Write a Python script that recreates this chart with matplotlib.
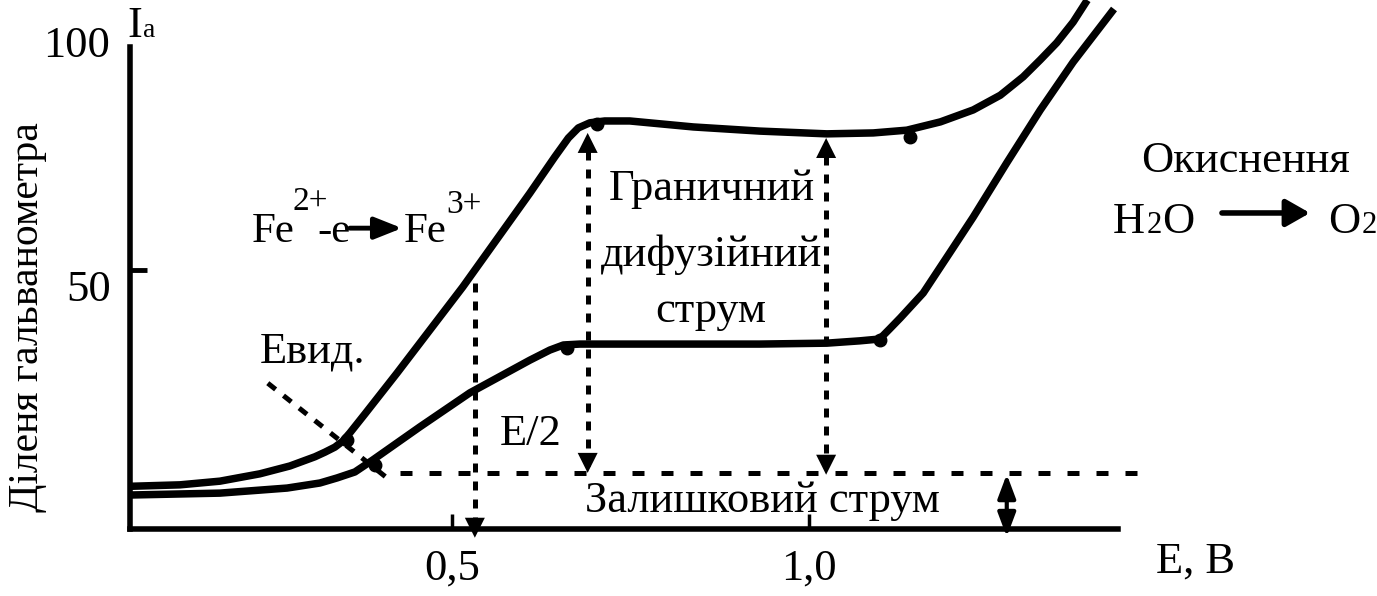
import matplotlib
matplotlib.use("Agg")
import matplotlib.pyplot as plt

plt.rcParams['font.family'] = ['Liberation Serif', 'DejaVu Serif']

# ---------------- data (E in V, current in galvanometer divisions) ----------------
upper_E = [0.053, 0.119, 0.175, 0.231, 0.273, 0.308, 0.322, 0.336, 0.347, 0.357,
           0.378, 0.423, 0.515, 0.609, 0.644, 0.663, 0.677, 0.693, 0.714, 0.749,
           0.838, 0.931, 1.025, 1.090, 1.137, 1.184, 1.230, 1.268, 1.300, 1.324,
           1.347, 1.370, 1.387]
upper_I = [3.0, 3.3, 4.1, 5.7, 7.4, 9.4, 10.4, 11.5, 12.8, 14.6,
           18.7, 27.6, 46.3, 66.7, 74.6, 78.7, 80.9, 82.0, 82.4, 82.4,
           81.1, 80.2, 79.6, 79.8, 80.4, 82.2, 84.8, 88.0, 92.0, 95.7,
           99.4, 103.9, 108.0]

lower_E = [0.053, 0.175, 0.269, 0.315, 0.339, 0.364, 0.389, 0.455, 0.525, 0.609,
           0.637, 0.656, 0.679, 0.791, 0.931, 1.025, 1.071, 1.099, 1.113, 1.128,
           1.160, 1.197, 1.230, 1.277, 1.324, 1.370, 1.424]
lower_I = [1.1, 1.5, 2.6, 3.7, 4.8, 6.1, 8.7, 15.9, 23.3, 30.4,
           32.6, 33.7, 33.9, 33.9, 33.9, 34.1, 34.6, 35.0, 37.2, 39.6,
           45.0, 53.7, 61.5, 73.3, 84.8, 95.2, 106.1]

upper_dots_E = [0.353, 0.703, 1.142]
upper_dots_I = [13.0, 81.7, 78.9]
lower_dots_E = [0.392, 0.661, 1.099]
lower_dots_I = [7.6, 33.0, 34.8]

x_ticks = [0.5, 1.0]
x_tick_labels = ['0,5', '1,0']
y_ticks = [50]
y_tick_labels = ['50']
y_top_label = '100'

residual_level = 5.9          # residual current level
E_half = 0.532                # half-wave potential
E_half_top = 47.2
E_lim1, lim1_top = 0.690, 79.8
E_lim2, lim2_top = 1.024, 78.7
E_resid = 1.277
resid_start, resid_end = 0.427, 1.464
below_axis = -8.2
evid_line_E = [0.242, 0.409]
evid_line_I = [25.4, 4.8]

# ---------------- figure ----------------
fig = plt.figure(figsize=(13.77, 5.96), dpi=100)
ax = fig.add_axes([130 / 1377, 67 / 596, 988 / 1377, 482 / 596])
ax.set_xlim(0.049, 1.4328)
ax.set_ylim(-6.30, 98.48)
for s in ['top', 'right']:
    ax.spines[s].set_visible(False)
for s in ['left', 'bottom']:
    ax.spines[s].set_linewidth(4)
    ax.spines[s].set_capstyle('projecting')

ax.set_xticks(x_ticks, labels=x_tick_labels)
ax.set_yticks(y_ticks, labels=y_tick_labels)
ax.tick_params(axis='x', direction='in', length=11, width=2.5, pad=14, labelsize=32)
ax.tick_params(axis='y', direction='in', length=12, width=3.5, pad=14, labelsize=32)
for lbl in ax.get_yticklabels():
    lbl.set_verticalalignment('top')
ax.text(-20 / 988, 96.3, y_top_label, transform=ax.get_yaxis_transform(),
        ha='right', va='baseline', fontsize=32)

ax.set_ylabel('Діленя гальванометра', fontsize=30)
ax.yaxis.set_label_coords(-0.084, 0.44)
ax.set_xlabel('E, B', fontsize=32)
ax.xaxis.set_label_coords(1.078, -0.027)

# curves
ax.plot(upper_E, upper_I, color='k', lw=5.4, solid_joinstyle='round', clip_on=False, zorder=3)
ax.plot(lower_E, lower_I, color='k', lw=5.4, solid_joinstyle='round', clip_on=False, zorder=3)
ax.plot(upper_dots_E, upper_dots_I, 'o', color='k', ms=9, clip_on=False, zorder=4)
ax.plot(lower_dots_E, lower_dots_I, 'o', color='k', ms=9, clip_on=False, zorder=4)

# dashed construction lines
dash_v = (0, (1.8, 1.8))
ax.plot([resid_start, resid_end], [residual_level, residual_level], color='k', lw=3.6,
        linestyle=(0, (2.4, 3.4)), clip_on=False, zorder=2)
ax.plot([E_half, E_half], [E_half_top, below_axis + 4], color='k', lw=3.6,
        linestyle=dash_v, clip_on=False, zorder=2)
ax.plot([E_lim1, E_lim1], [lim1_top - 4, residual_level], color='k', lw=3.6,
        linestyle=dash_v, clip_on=False, zorder=2)
ax.plot([E_lim2, E_lim2], [lim2_top - 4, residual_level + 4], color='k', lw=3.6,
        linestyle=dash_v, clip_on=False, zorder=2)
ax.plot(evid_line_E, evid_line_I, color='k', lw=3.6, linestyle=(0, (2.0, 2.0)),
        clip_on=False, zorder=2)


def head(x, y_tip, y_from):
    ax.annotate('', xy=(x, y_tip), xytext=(x, y_from), annotation_clip=False,
                arrowprops=dict(arrowstyle='-|>,head_length=0.72,head_width=0.36',
                                lw=0, color='k', mutation_scale=20,
                                shrinkA=0, shrinkB=0), zorder=3)


head(E_half, below_axis, below_axis + 5)
head(E_lim1, lim1_top, lim1_top - 5)
head(E_lim1, residual_level, residual_level + 5)
head(E_lim2, lim2_top, lim2_top - 5)
head(E_lim2, residual_level - 0.4, residual_level + 4.6)

ax.annotate('', xy=(E_resid, below_axis + 0.2), xytext=(E_resid, residual_level - 0.3),
            annotation_clip=False,
            arrowprops=dict(arrowstyle='<|-|>,head_length=0.72,head_width=0.27',
                            lw=3, color='k', mutation_scale=20, shrinkA=0, shrinkB=0))

# texts
ax.text(0.0448, 100.65, 'I', fontsize=32, ha='left', va='baseline')
ax.text(0.0672, 100.65, 'a', fontsize=20, ha='left', va='baseline')

ax.text(0.864, 65.2, 'Граничний', fontsize=32, ha='center', va='baseline')
ax.text(0.864, 50.9, 'дифузійний', fontsize=32, ha='center', va='baseline')
ax.text(0.863, 38.7, 'струм', fontsize=32, ha='center', va='baseline')
ax.text(0.9342, -2.6, 'Залишковий струм', fontsize=32, ha='center', va='baseline')
ax.text(0.2311, 29.8, 'Евид.', fontsize=32, ha='left', va='baseline')
ax.text(0.6106, 12.0, 'E/2', fontsize=32, ha='center', va='baseline')

# Fe2+ - e -> Fe3+
ax.text(0.220, 56.1, 'Fe', fontsize=31, ha='left', va='baseline')
ax.text(0.276, 63.0, '2+', fontsize=24, ha='left', va='baseline')
ax.text(0.312, 56.1, '-e', fontsize=31, ha='left', va='baseline')
ax.annotate('', xy=(0.430, 59.1), xytext=(0.357, 59.1), annotation_clip=False,
            arrowprops=dict(arrowstyle='-|>,head_length=0.83,head_width=0.33',
                            lw=3.5, color='k', mutation_scale=20, shrinkA=0, shrinkB=0))
ax.text(0.432, 56.1, 'Fe', fontsize=31, ha='left', va='baseline')
ax.text(0.4916, 62.4, '3+', fontsize=24, ha='left', va='baseline')

# oxidation of water
ax.text(1.611, 71.3, 'Окиснення', fontsize=32, ha='center', va='baseline')
ax.text(1.4258, 58.0, 'H', fontsize=32, ha='left', va='baseline')
ax.text(1.4734, 58.0, '2', fontsize=22, ha='left', va='baseline')
ax.text(1.4944, 58.0, 'O', fontsize=32, ha='left', va='baseline')
ax.annotate('', xy=(1.7017, 62.4), xytext=(1.5784, 62.4), annotation_clip=False,
            arrowprops=dict(arrowstyle='-|>,head_length=0.72,head_width=0.41',
                            lw=4, color='k', mutation_scale=20, shrinkA=0, shrinkB=0))
ax.text(1.7269, 58.0, 'O', fontsize=32, ha='left', va='baseline')
ax.text(1.7745, 58.0, '2', fontsize=22, ha='left', va='baseline')

fig.savefig('out.png', dpi=100)
